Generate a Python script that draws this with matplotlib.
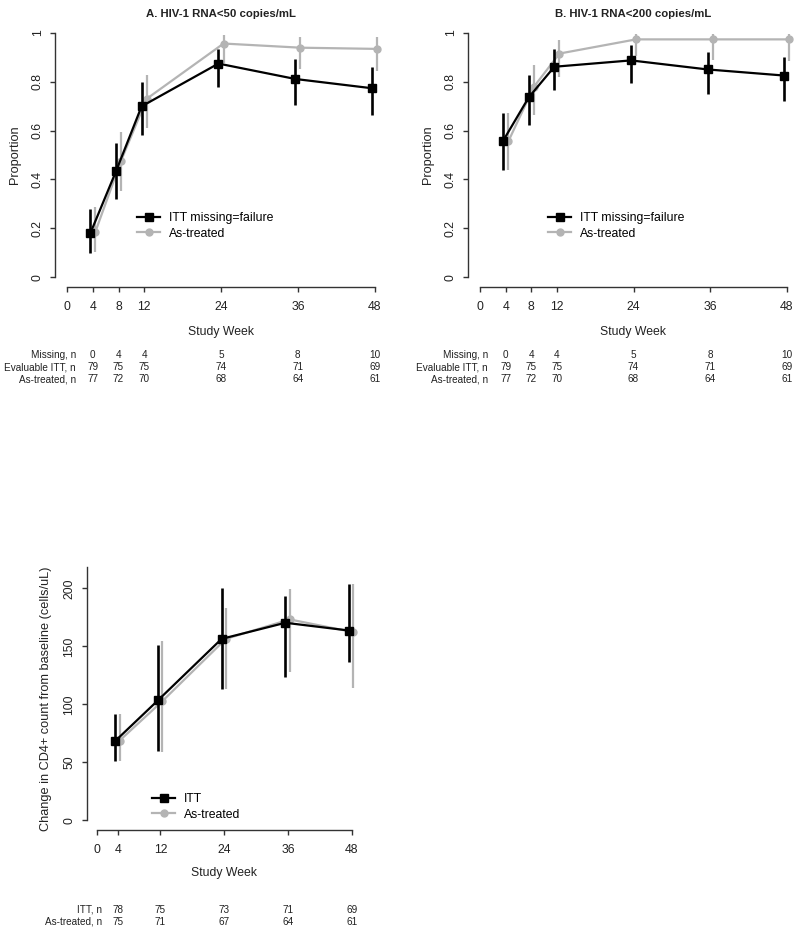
import matplotlib
matplotlib.use("Agg")
import matplotlib.pyplot as plt
from matplotlib.transforms import blended_transform_factory as btf

plt.rcParams['font.family'] = ['Liberation Sans', 'DejaVu Sans']

W, H = 800, 934

weeks = [4, 8, 12, 24, 36, 48]
xticks_ab = [0, 4, 8, 12, 24, 36, 48]

# Panel A: HIV-1 RNA<50
a_itt = [0.180, 0.433, 0.699, 0.874, 0.811, 0.773]
a_itt_lo = [0.098, 0.320, 0.581, 0.777, 0.704, 0.663]
a_itt_hi = [0.280, 0.549, 0.798, 0.934, 0.893, 0.859]
a_at = [0.187, 0.477, 0.730, 0.956, 0.939, 0.934]
a_at_lo = [0.102, 0.351, 0.611, 0.877, 0.850, 0.843]
a_at_hi = [0.287, 0.594, 0.829, 0.990, 0.984, 0.982]

# Panel B: HIV-1 RNA<200
b_itt = [0.559, 0.736, 0.861, 0.887, 0.850, 0.825]
b_itt_lo = [0.440, 0.624, 0.765, 0.795, 0.750, 0.719]
b_itt_hi = [0.672, 0.828, 0.932, 0.948, 0.921, 0.899]
b_at = [0.556, 0.779, 0.915, 0.973, 0.973, 0.973]
b_at_lo = [0.440, 0.663, 0.820, 0.904, 0.887, 0.886]
b_at_hi = [0.672, 0.869, 0.970, 0.997, 0.997, 0.997]

missing_n = ["0", "4", "4", "5", "8", "10"]
evaluable_n = ["79", "75", "75", "74", "71", "69"]
astreated_n = ["77", "72", "70", "68", "64", "61"]

# Panel C: CD4 change
c_weeks = [4, 12, 24, 36, 48]
xticks_c = [0, 4, 12, 24, 36, 48]
c_itt = [68.4, 103.3, 156.4, 170.3, 163.6]
c_itt_lo = [51.4, 60.0, 113.4, 123.5, 136.2]
c_itt_hi = [91.5, 151.2, 200.0, 193.4, 203.5]
c_at = [68.7, 102.5, 156.4, 173.2, 162.2]
c_at_lo = [51.4, 58.6, 113.4, 127.8, 114.0]
c_at_hi = [91.5, 154.4, 183.3, 199.1, 203.5]
c_itt_n = ["78", "75", "73", "71", "69"]
c_at_n = ["75", "71", "67", "64", "61"]

GRAY = '#b4b4b4'
TXT = '#222222'
fig = plt.figure(figsize=(W / 100, H / 100), dpi=100)


def add_ax(l, t, r, b):
    return fig.add_axes([l / W, 1 - b / H, (r - l) / W, (b - t) / H])


def fy(py):
    return 1 - py / H


def style(ax, xt, yt, ylab, ylim_rng, ybounds):
    for s in ['top', 'right']:
        ax.spines[s].set_visible(False)
    ax.spines['left'].set_bounds(*ybounds)
    ax.spines['bottom'].set_bounds(0, 48)
    for s in ['left', 'bottom']:
        ax.spines[s].set_linewidth(1.0)
        ax.spines[s].set_color('#333333')
    ax.set_xlim(-1.92, 49.92)
    lo, hi = ylim_rng
    pad = 0.04 * (hi - lo)
    ax.set_ylim(lo - pad, hi + pad)
    ax.set_xticks(xt)
    ax.set_xticklabels([str(v) for v in xt], fontsize=8.8, color=TXT)
    ax.set_yticks(yt)
    ax.set_yticklabels([("%g" % v) for v in yt], rotation=90, va='center', fontsize=8.8, color=TXT)
    ax.tick_params(direction='out', length=3.6, width=1, colors='#333333', labelcolor=TXT)
    ax.tick_params(axis='x', pad=6.5)
    ax.tick_params(axis='y', pad=4.5)
    ax.set_ylabel(ylab, fontsize=9.2, color=TXT, labelpad=8)
    ax.patch.set_alpha(0)


def draw_series(ax, x, y, lo, hi, off_itt, off_at, lab_itt, legend_pos):
    xi = [v + off_itt for v in x]
    xa = [v + off_at for v in x]
    ax.vlines(xa, lo[1], hi[1], color=GRAY, lw=1.6, zorder=2)
    ax.plot(xa, y[1], color=GRAY, lw=1.6, marker='o', ms=5, zorder=3, label='As-treated')
    ax.vlines(xi, lo[0], hi[0], color='black', lw=1.9, zorder=4)
    ax.plot(xi, y[0], color='black', lw=1.6, marker='s', ms=5.8, zorder=5, label=lab_itt)
    h, l = ax.get_legend_handles_labels()
    ax.legend(h[::-1], l[::-1], loc='upper left', bbox_to_anchor=legend_pos, frameon=False,
              fontsize=8.8, handlelength=1.9, handletextpad=0.7, labelspacing=0.3,
              borderaxespad=0, borderpad=0)


# Panel A
axA = add_ax(55, 23, 387, 287)
draw_series(axA, weeks, [a_itt, a_at], [a_itt_lo, a_at_lo], [a_itt_hi, a_at_hi],
            -0.4, 0.4, 'ITT missing=failure', ((137 - 55) / 332, 1 - (212 - 23) / 264))
style(axA, xticks_ab, [0, 0.2, 0.4, 0.6, 0.8, 1], 'Proportion', (0, 1), (0, 1))
axA.set_title('A. HIV-1 RNA<50 copies/mL', fontsize=8.2, fontweight='bold', pad=4, color=TXT)

# Panel B
axB = add_ax(468, 23, 799, 287)
draw_series(axB, weeks, [b_itt, b_at], [b_itt_lo, b_at_lo], [b_itt_hi, b_at_hi],
            -0.4, 0.4, 'ITT missing=failure', ((548 - 468) / 331, 1 - (212 - 23) / 264))
style(axB, xticks_ab, [0, 0.2, 0.4, 0.6, 0.8, 1], 'Proportion', (0, 1), (0, 1))
axB.set_title('B. HIV-1 RNA<200 copies/mL', fontsize=8.2, fontweight='bold', pad=4, color=TXT)

for ax, lx in [(axA, 76), (axB, 488)]:
    tr = btf(ax.transData, fig.transFigure)
    ax.text(24, fy(332), 'Study Week', transform=tr, ha='center', va='center', fontsize=8.8, color=TXT)
    rows = [('Missing, n', missing_n, 355), ('Evaluable ITT, n', evaluable_n, 367),
            ('As-treated, n', astreated_n, 379)]
    for lab, vals, py in rows:
        fig.text(lx / W, fy(py), lab, ha='right', va='center', fontsize=7.2, color=TXT)
        for wk, v in zip(weeks, vals):
            ax.text(wk, fy(py), v, transform=tr, ha='center', va='center', fontsize=7.2, color=TXT)

# Panel C
axC = add_ax(86.5, 567, 362, 830)
draw_series(axC, c_weeks, [c_itt, c_at], [c_itt_lo, c_at_lo], [c_itt_hi, c_at_hi],
            -0.5, 0.3, 'ITT', ((152 - 86.5) / 275.5, 1 - (793 - 567) / 263))
style(axC, xticks_c, [0, 50, 100, 150, 200], 'Change in CD4+ count from baseline (cells/uL)', (0, 210), (0, 218.4))

trC = btf(axC.transData, fig.transFigure)
axC.text(24, fy(873), 'Study Week', transform=trC, ha='center', va='center', fontsize=8.8, color=TXT)
for lab, vals, py in [('ITT, n', c_itt_n, 910), ('As-treated, n', c_at_n, 922)]:
    fig.text(102 / W, fy(py), lab, ha='right', va='center', fontsize=7.2, color=TXT)
    for wk, v in zip(c_weeks, vals):
        axC.text(wk, fy(py), v, transform=trC, ha='center', va='center', fontsize=7.2, color=TXT)

fig.savefig('out.png', dpi=100, facecolor='white')
